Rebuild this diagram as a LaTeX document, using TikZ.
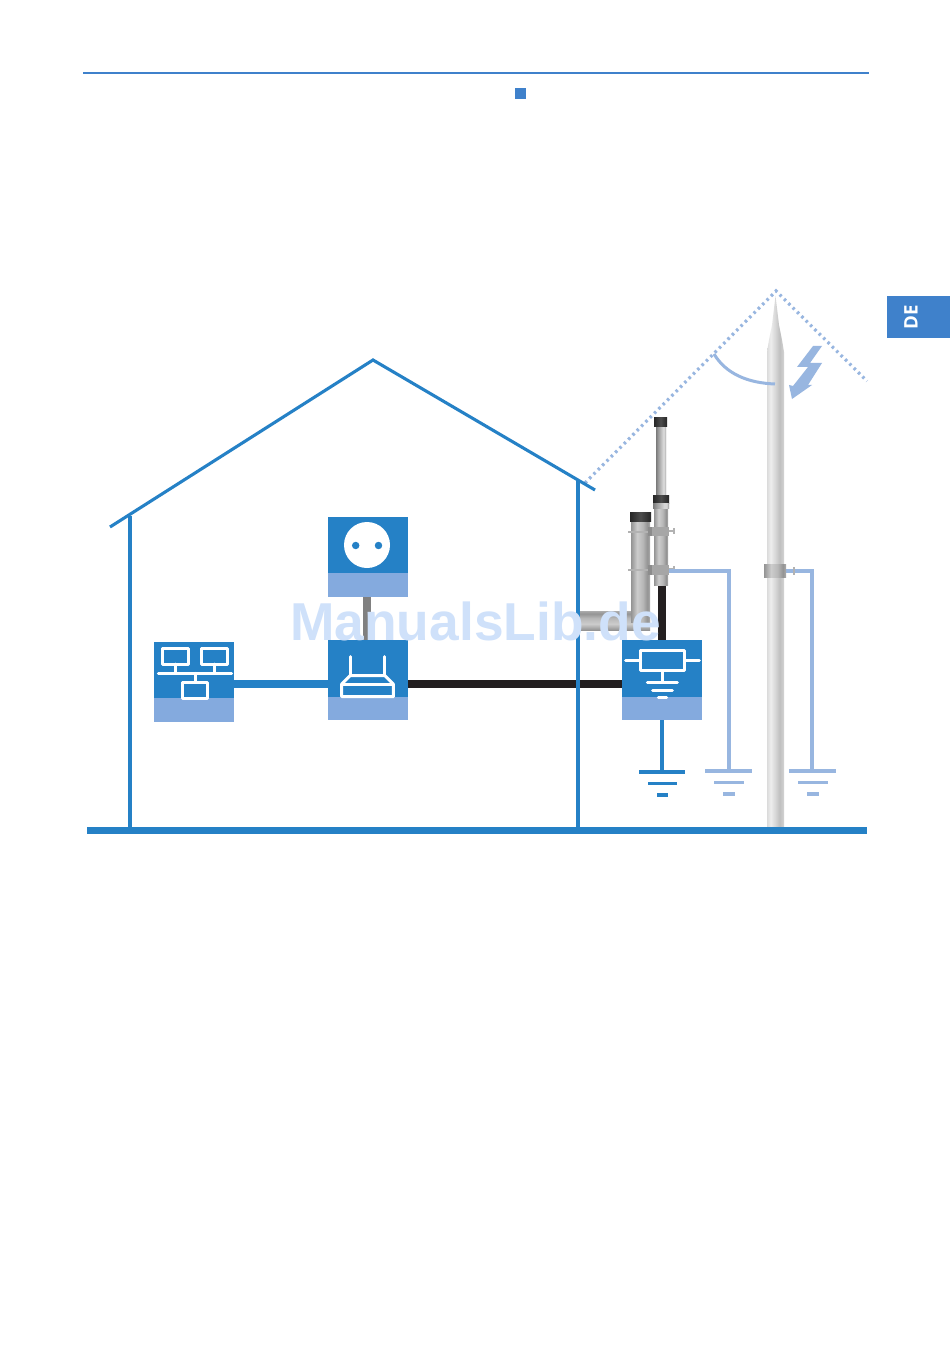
\documentclass[tikz,border=0pt]{standalone}
\usepackage{fontspec}
\setmainfont{Liberation Sans}
\newfontfamily\tabfont{Open Sans}
\definecolor{hdr}{HTML}{3F81CB}
\definecolor{house}{HTML}{2581C6}
\definecolor{band}{HTML}{84AADE}
\definecolor{pale}{HTML}{98B6E0}
\definecolor{wm}{HTML}{CFE1FA}
\definecolor{cable}{HTML}{231F20}
\pgfdeclarehorizontalshading{mastshade}{100bp}{color(0bp)=(black!14);color(25bp)=(black!14);color(36bp)=(black!7);color(50bp)=(black!16);color(62bp)=(black!25);color(75bp)=(black!17);color(100bp)=(black!17)}
\pgfdeclarehorizontalshading{pipeshade}{100bp}{color(0bp)=(black!42);color(25bp)=(black!42);color(41bp)=(black!20);color(56bp)=(black!28);color(68bp)=(black!42);color(75bp)=(black!33);color(100bp)=(black!33)}
\pgfdeclarehorizontalshading{thinshade}{100bp}{color(0bp)=(black!52);color(25bp)=(black!52);color(37bp)=(black!38);color(60bp)=(black!16);color(68bp)=(black!16);color(75bp)=(black!45);color(100bp)=(black!45)}
\pgfdeclarehorizontalshading{capshade}{100bp}{color(0bp)=(black!85);color(25bp)=(black!85);color(50bp)=(black!70);color(75bp)=(black!85);color(100bp)=(black!85)}
\tikzset{
  x=0.75pt,y=-0.75pt,
  px/.style={line width=#1*0.75pt},
  devbox/.style={fill=house,draw=none,inner sep=0pt,minimum size=60pt},
  houseline/.style={draw=house,px=3.1},
  icon/.style={draw=white,px=3,line cap=round,line join=round},
  earthwire/.style={draw=pale,px=3.1},
  dots/.style={draw=pale,px=3.2,dash pattern=on 1.9pt off 2.7pt},
  bolt/.style={draw=black!30,px=2},
  clampband/.style={fill=black!35},
}
\begin{document}
\begin{tikzpicture}
\useasboundingbox (0,0) rectangle (950,1351);
\fill[white] (0,0) rectangle (950,1351);
% header
\draw[hdr,px=2.6] (83,73) -- (869,73);
\fill[hdr] (515,88) rectangle (526,99);
\node[fill=hdr,inner sep=0pt,minimum width=47.25pt,minimum height=31.5pt,anchor=north west] (tab) at (887,296) {};
\node[rotate=90,text=white,font=\tabfont\bfseries\fontsize{14}{14}\selectfont,inner sep=0pt] (de) at (911,317) {DE};
% lightning protection mast
\shade[shading=mastshade,shading angle=0] (775.5,296) -- (772,325) -- (769,340) -- (767,352) -- (767,828) -- (784,828) -- (784,352) -- (782,340) -- (779,325) -- cycle;
\draw[dots] (585,483) -- (776,291) -- (867,381);
\draw[draw=pale,px=3] (714,354) .. controls (726,374) and (748,383) .. (775,384);
\fill[pale] (813,346) -- (822,346) -- (810,363) -- (822,363) -- (808,385) -- (812,385) -- (792,399) -- (789,385) -- (793,386) -- (808,367) -- (797,367) -- cycle;
% pipes
\shade[shading=pipeshade,shading angle=90] (578,611) rectangle (650,630);
\shade[shading=pipeshade,shading angle=0] (631,521) rectangle (650,622);
\shade[shading=capshade,shading angle=0] (630,512) rectangle (651,521);
% antenna
\fill[cable] (658,585) rectangle (666,640);
\shade[shading=thinshade,shading angle=0] (656,426) rectangle (666,495);
\shade[shading=capshade,shading angle=0] (654,417) rectangle (667,426);
\shade[shading=pipeshade,shading angle=0] (654,508) rectangle (668,585);
\shade[shading=capshade,shading angle=0] (653,495) rectangle (669,503);
\shade[shading=thinshade,shading angle=0] (653,503) rectangle (669,508);
% clamps
\draw[bolt] (628,531.5) -- (650,531.5);
\draw[bolt] (628,569.5) -- (650,569.5);
\fill[black!45] (648,527) rectangle (655,536);
\fill[black!45] (648,565) rectangle (655,575);
\fill[clampband] (652,527) rectangle (669,536);
\fill[clampband] (652,565) rectangle (669,575);
\draw[bolt] (669,531) -- (675,531) (674,528) -- (674,534);
\draw[bolt] (669,569) -- (675,569) (674,566) -- (674,572);
% devices
\node[devbox] (sock) at (368,557) {};
\node[devbox] (router) at (368,680) {};
\node[devbox] (net) at (194,682) {};
\node[devbox] (prot) at (662,680) {};
\fill[band] (sock.south west) rectangle ([yshift=18pt]sock.south east);
\fill[band] (router.south west) rectangle ([yshift=17.25pt]router.south east);
\fill[band] (net.south west) rectangle ([yshift=18pt]net.south east);
\fill[band] (prot.south west) rectangle ([yshift=17.25pt]prot.south east);
% connectors
\coordinate (lnet) at (234,684);
\coordinate (lrl) at (328,684);
\coordinate (lrr) at (408,684);
\coordinate (lprot) at (622,684);
\draw[house,px=8.5] (lnet) -- (lrl);
\draw[cable,px=8.5] (lrr) -- (lprot);
\draw[black!50,px=8] ([xshift=-0.75pt]sock.south) -- ([xshift=-0.75pt]router.north);
% socket icon
\fill[white] (367,545) circle[radius=17.25pt];
\fill[house] (355.7,545.5) circle[radius=2.8pt];
\fill[house] (378.5,545.5) circle[radius=2.8pt];
% router icon
\draw[icon] (350.7,656.7) -- (350.7,675.7) (384.3,656.7) -- (384.3,675.7);
\draw[icon] (341.7,696.7) -- (341.7,684) -- (350,675.7) -- (385,675.7) -- (393.3,684) -- (393.3,696.7) -- cycle;
\draw[icon] (341.7,684) -- (393.3,684);
% network icon
\draw[icon] (162.7,648.3) rectangle (188.3,664);
\draw[icon] (201,648.3) rectangle (227.3,664);
\draw[icon] (182.3,682.3) rectangle (207.3,698.3);
\draw[icon] (175.3,664) -- (175.3,673.3) (214,664) -- (214,673.3) (158.3,673.3) -- (231.7,673.3) (195,673.3) -- (195,682.3);
% protector icon
\draw[icon] (640.7,650.7) rectangle (684.7,670.7);
\draw[icon] (625.7,660.3) -- (640.7,660.3) (684.7,660.3) -- (699.3,660.3);
\draw[icon] (662.3,670.7) -- (662.3,682.3) (647.3,682.3) -- (677.3,682.3) (652.7,690) -- (672.3,690) (658.3,697.3) -- (666.7,697.3);
% earth wires
\coordinate (gblue) at (662,771);
\coordinate (gant) at (729,771);
\coordinate (gmast) at (812,771);
\draw[house,px=3.1] (prot.south) -- (gblue);
\fill[house] (639,770) rectangle (685,773.5);
\fill[house] (647.5,781.5) rectangle (677,785);
\fill[house] (656.5,793) rectangle (668,796.5);
\draw[earthwire] (669,571) -- (729,571) -- (gant);
\fill[pale] (705,769) rectangle (752,772.5);
\fill[pale] (714,780.5) rectangle (743.5,784);
\fill[pale] (723,792) rectangle (735,795.5);
\draw[earthwire] (786,571) -- (812,571) -- (gmast);
\fill[pale] (789,769) rectangle (836,772.5);
\fill[pale] (798,780.5) rectangle (827.5,784);
\fill[pale] (807,792) rectangle (819,795.5);
\shade[shading=pipeshade,shading angle=0] (764,564) rectangle (786,577);
\draw[black!30,px=1.5] (794,567) -- (794,575);
% house
\draw[houseline,line join=miter] (110,527) -- (373,360) -- (595,490);
\draw[houseline] (130,516) -- (130,829);
\draw[houseline] (578,481) -- (578,829);
\fill[house] (87,827) rectangle (867,833.5);
% watermark
\node[text=wm,font=\bfseries\fontsize{40}{40}\selectfont,inner sep=0pt] (wmark) at (475.5,621) {ManualsLib.de};
\end{tikzpicture}
\end{document}
